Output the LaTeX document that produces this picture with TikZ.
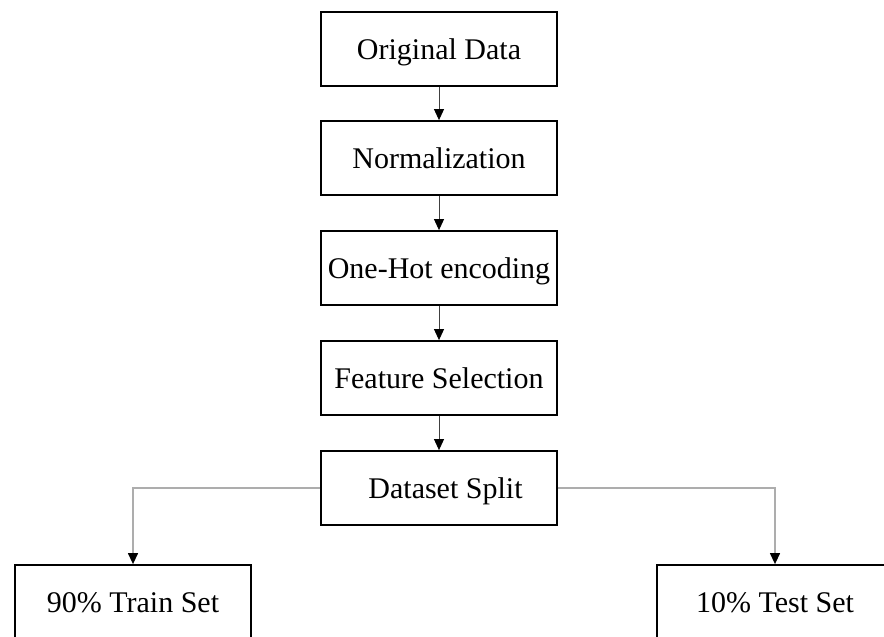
\documentclass[tikz,border=0pt]{standalone}
\usepackage{fontspec}
\setmainfont{Liberation Serif}
\usetikzlibrary{arrows.meta}
\begin{document}
\begin{tikzpicture}[x=1pt,y=-1pt,
 box/.style={draw=black,line width=1.8pt,minimum width=236pt,minimum height=74pt,inner sep=0pt,
   font=\fontsize{30}{36}\selectfont,text height=20pt,text depth=0pt,fill=white},
 flow/.style={draw=black!75,line width=0.9pt,-{Triangle[length=11pt,width=10pt,color=black]}},
 split/.style={draw=black!32,line width=1.3pt,-{Triangle[length=11pt,width=10pt,color=black]}}]
\fill[white] (0,0) rectangle (884,637);
\clip (0,0) rectangle (884,637);
\node[box] (orig) at (439,49) {Original Data};
\node[box] (norm) at (439,158) {Normalization};
\node[box] (onehot) at (439,268) {One-Hot encoding};
\node[box] (feat) at (439,378) {Feature Selection};
\node[box] (split) at (439,488) {\hspace*{13pt}Dataset Split};
\node[box] (train) at (133,602) {90\% Train Set};
\node[box] (test) at (775,602) {10\% Test Set};
\draw[flow] (orig) -- (norm);
\draw[flow] (norm) -- (onehot);
\draw[flow] (onehot) -- (feat);
\draw[flow] (feat) -- (split);
\draw[split] (split.west) -| (train.north);
\draw[split] (split.east) -| (test.north);
\end{tikzpicture}
\end{document}
